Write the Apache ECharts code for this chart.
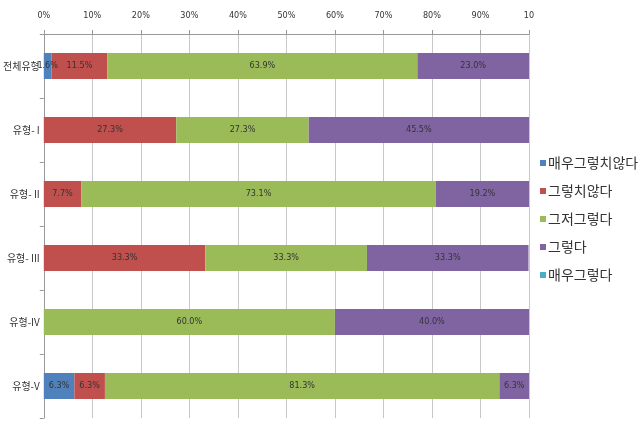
<!DOCTYPE html>
<html>
<head>
<meta charset="utf-8">
<script src="https://cdn.jsdelivr.net/npm/echarts@6/dist/echarts.min.js"></script>
<style>
  html, body { margin: 0; padding: 0; background: #fff; }
  #main { width: 643px; height: 438px; }
</style>
</head>
<body>
<div id="main"></div>
<script>
var categories = ['전체유형', '유형- I', '유형- II', '유형- III', '유형-IV', '유형-V'];
var seriesNames = ['매우그렇치않다', '그렇치않다', '그저그렇다', '그렇다', '매우그렇다'];
var veryNo = [1.6, 0, 0, 0, 0, 6.3];
var no = [11.5, 27.3, 7.7, 33.3, 0, 6.3];
var soSo = [63.9, 27.3, 73.1, 33.3, 60.0, 81.3];
var yes = [23.0, 45.5, 19.2, 33.3, 40.0, 6.3];
var veryYes = [0, 0, 0, 0, 0, 0];
var tickLabels = ['0%', '10%', '20%', '30%', '40%', '50%', '60%', '70%', '80%', '90%', '10'];
var colors = ['#4f81bd', '#c0504d', '#9bbb59', '#8064a2', '#4bacc6'];

var chartDom = document.getElementById('main');
var myChart = echarts.init(chartDom);
var option;

var seriesData = [veryNo, no, soSo, yes, veryYes];
var series = seriesData.map(function (d, i) {
  return {
    name: seriesNames[i],
    type: 'bar',
    stack: 'total',
    barWidth: 26,
    data: d,
    itemStyle: { color: colors[i] },
    label: {
      show: true,
      position: 'inside',
      color: '#333',
      fontSize: 9,
      fontFamily: 'DejaVu Sans Condensed, Liberation Sans Narrow, sans-serif',
      formatter: function (p) {
        return p.value > 0 ? p.value.toFixed(1) + '%' : '';
      }
    }
  };
});

option = {
  animation: false,
  color: colors,
  grid: { left: 42, top: 34, right: 114, bottom: 20, containLabel: false },
  legend: {
    orient: 'vertical',
    left: 535,
    top: 151,
    itemWidth: 6,
    itemHeight: 6,
    itemGap: 14,
    icon: 'rect',
    textStyle: {
      fontSize: 14,
      color: '#333',
      padding: [0, 0, 0, -3],
      fontFamily: 'Noto Sans CJK KR'
    },
    data: seriesNames
  },
  xAxis: {
    type: 'value',
    position: 'top',
    min: 0,
    max: 100,
    interval: 10,
    axisLine: { show: true, lineStyle: { color: '#999' } },
    axisTick: { show: true, length: 4, lineStyle: { color: '#999' } },
    splitLine: { show: true, lineStyle: { color: '#c8c8c8' } },
    axisLabel: {
      color: '#333',
      fontSize: 9,
      margin: 14,
      fontFamily: 'DejaVu Sans Condensed, sans-serif',
      formatter: function (v) {
        return tickLabels[Math.round(v / 10)];
      }
    }
  },
  yAxis: {
    type: 'category',
    inverse: true,
    data: categories,
    axisLine: { show: true, lineStyle: { color: '#999' } },
    axisTick: { show: true, length: 4, lineStyle: { color: '#999' } },
    axisLabel: {
      color: '#333',
      fontSize: 10,
      margin: 4,
      fontFamily: 'Noto Sans CJK KR'
    }
  },
  series: series
};

option && myChart.setOption(option);
</script>
</body>
</html>
